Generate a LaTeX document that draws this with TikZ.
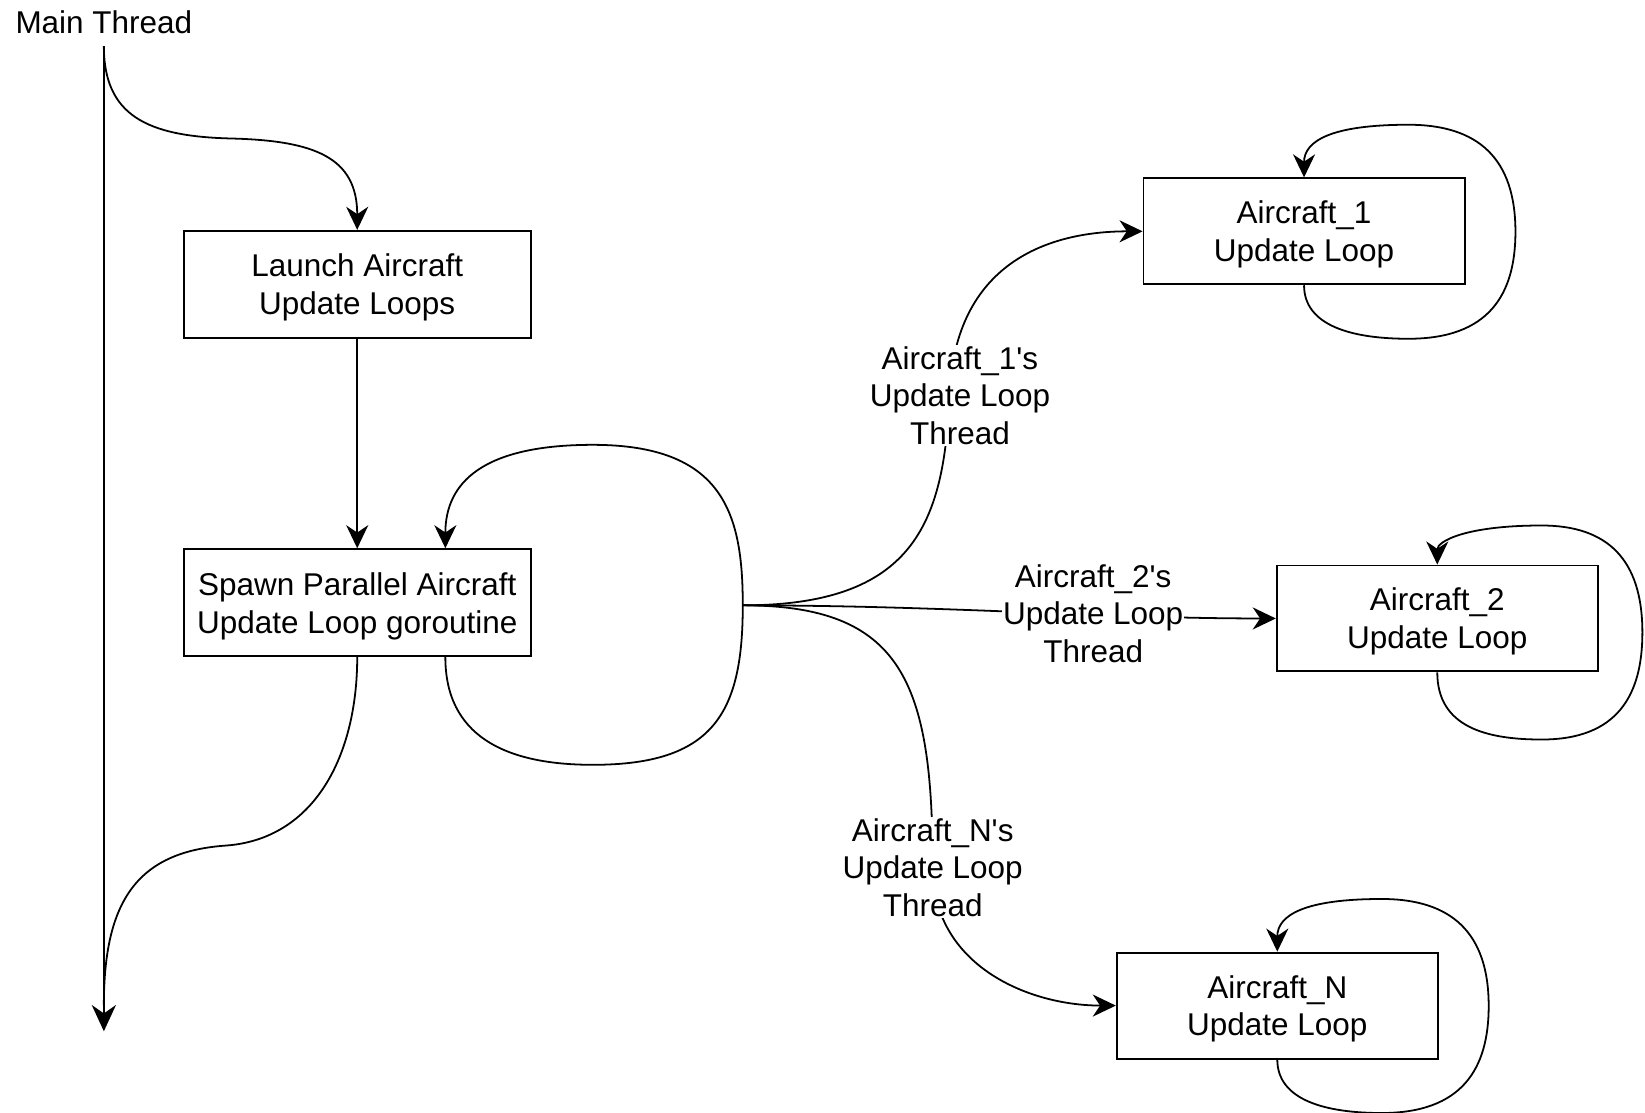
\documentclass[tikz,border=0pt]{standalone}
\usepackage{fontspec}
\setmainfont{Liberation Sans}
\usetikzlibrary{arrows.meta,calc}
\newcommand{\fs}{\fontsize{30pt}{36pt}\selectfont}
\newcommand{\aq}{\textquotesingle}
\tikzset{
  box/.style={draw, line width=1.8pt, minimum width=331pt, minimum height=102pt, align=center, inner sep=0pt, font=\fs,
    text depth=-5pt},
  acbox/.style={box, minimum width=306pt, minimum height=101pt},
  conn/.style={line width=1.7pt, -{Stealth[length=22pt,width=21pt,inset=7pt]}},
  plain/.style={line width=1.7pt},
  mainline/.style={line width=2.2pt, -{Stealth[length=25pt,width=23pt,inset=8pt]}},
  lbl/.style={fill=white, align=center, inner sep=1pt, font=\fs},
}
% #1 node, #2 horizontal reach of the loop, #3 downward offset of the loop
\newcommand{\acloop}[3]{%
  \draw[conn] (#1.south) .. controls +(0,{39+#3}) and +(-53,0) .. ++(99.5,{51+#3})
    .. controls +({0.75*#2},0) and +(0,60) .. ++(#2,-102)
    .. controls +(0,-70) and +({0.65*#2},0) .. ++(-#2,-102)
    .. controls +(-73,0) and +(0,{-35+#3}) .. (#1.north);}
\begin{document}
\begin{tikzpicture}[x=1pt,y=-1pt]
\useasboundingbox (0,0) rectangle (1568,1060);
\node[font=\fs] (mt) at (99,21) {Main Thread};
\coordinate (mtop) at (99,44);
\coordinate (mtip) at (99,983);
\coordinate (mjoin) at (99,958);
\node[box] (launch) at (340.5,271) {Launch Aircraft\\Update Loops};
\node[box] (spawn) at (340.5,574.5) {Spawn Parallel Aircraft\\Update Loop goroutine};
\node[acbox] (a1) at (1243,220.5) {Aircraft\_1\\Update Loop};
\node[acbox] (a2) at (1370,589.5) {Aircraft\_2\\Update Loop};
\node[acbox] (an) at (1217.5,958.5) {Aircraft\_N\\Update Loop};
\coordinate (br) at (708,577);
\coordinate (sb) at (565,729);
\coordinate (st) at (565,424);
\coordinate (w1) at (905,377);
\coordinate (wn) at (889,827);
\coordinate (tm) at (220,132);
\coordinate (bm) at (215,806);

\draw[mainline] (mtop) -- (mtip);
\draw[conn] (mtop) .. controls (99,110) and (140,130) .. (tm)
  .. controls (300,134) and (340.5,150) .. (launch.north);
\draw[conn] (launch) -- (spawn);
\draw[plain] (spawn.south) .. controls (340.5,720) and (300,800) .. (bm)
  .. controls (130,812) and (99,860) .. (mjoin);

\draw[conn] ([xshift=84pt]spawn.south) .. controls +(0,74) and +(-85,0) .. (sb)
  .. controls (680,729) and (708,680) .. (br)
  .. controls (708,490) and (690,424) .. (st)
  .. controls (460,424) and (424.5,460) .. ([xshift=84pt]spawn.north);

\acloop{a1}{102}{0}
\acloop{a2}{96}{13}
\acloop{an}{102}{0}

\draw[conn] (br) .. controls (870,577) and (900,500) .. (w1)
  .. controls (910,250) and (1000,220.5) .. (a1.west);
\draw[conn] (br) .. controls (900,577) and (1050,589.5) .. (a2.west);
\draw[conn] (br) .. controls (860,577) and (889,650) .. (wn)
  .. controls (889,920) and (980,958.5) .. (an.west);

\node[lbl] (l1) at (915,377) {Aircraft\_1\aq s\\Update Loop\\Thread};
\node[lbl] (l2) at (1042,585) {Aircraft\_2\aq s\\Update Loop\\Thread};
\node[lbl] (ln) at (889,827) {Aircraft\_N\aq s\\Update Loop\\Thread};
\end{tikzpicture}
\end{document}
